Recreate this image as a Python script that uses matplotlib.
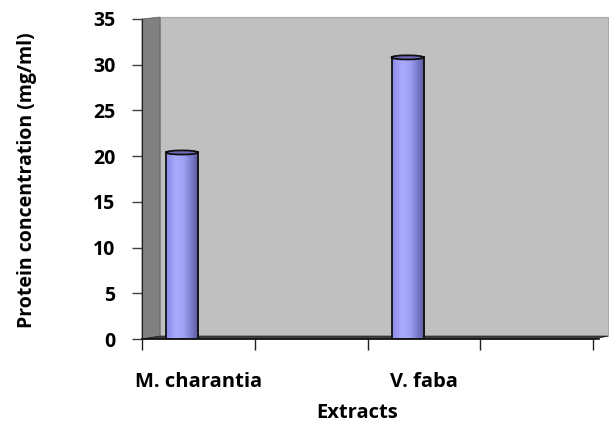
import numpy as np
import matplotlib.pyplot as plt
from matplotlib.patches import Polygon, Rectangle, Ellipse
from matplotlib.colors import LinearSegmentedColormap

# protein content of the plant extracts (blank slots are empty categories)
categories = ["M. charantia", "", "V. faba", ""]
protein = [20.4, np.nan, 30.8, np.nan]
y_ticks = [0, 5, 10, 15, 20, 25, 30, 35]

plt.rcParams["font.family"] = ["Open Sans", "DejaVu Sans"]
plt.rcParams["font.weight"] = "bold"

fig = plt.figure(figsize=(6.09, 4.23), dpi=100)
ax = fig.add_axes([142 / 609, 84 / 423, 451 / 609, 320 / 423])
ax.set_facecolor("none")
ax.set_xlim(0, len(categories))
ax.set_ylim(0, 35)

# walls of the pseudo-3D plot area, in axes coordinates
back = Rectangle((0.04, 0.009), 0.993, 0.997, transform=ax.transAxes,
                 facecolor="#c0c0c0", edgecolor="#a8a8a8", lw=0.8,
                 clip_on=False, zorder=0)
side = Polygon([(0, 0), (0, 1), (0.04, 1.006), (0.04, 0.009)],
               transform=ax.transAxes, closed=True, facecolor="#808080",
               edgecolor="#606060", lw=0.6, clip_on=False, zorder=0.5)
floor = Polygon([(0, 0), (0.04, 0.009), (1.033, 0.009), (1.0, 0)],
                transform=ax.transAxes, closed=True, facecolor="#404040",
                edgecolor="#202020", lw=0.6, clip_on=False, zorder=0.6)
for p in (back, side, floor):
    ax.add_patch(p)

# cylinder shading, light on the left, dark on the right
shade = LinearSegmentedColormap.from_list(
    "cyl", [(0, "#8a8ae8"), (0.3, "#aaaaff"), (0.55, "#a0a0f4"),
            (0.85, "#7070c0"), (1, "#55558f")])
grad = np.linspace(0, 1, 64)[None, :]
bar_w = 0.284
cap_h = 0.45
for i, v in enumerate(protein):
    if np.isnan(v):
        continue
    x0 = i + 0.355 - bar_w / 2
    body = Rectangle((x0, 0), bar_w, v, facecolor="none", edgecolor="#101010",
                     lw=1.3, zorder=3)
    ax.add_patch(body)
    im = ax.imshow(grad, cmap=shade, aspect="auto", extent=(x0, x0 + bar_w, 0, v),
                   zorder=2)
    im.set_clip_path(body)
    ax.add_patch(Ellipse((x0 + bar_w / 2, v), bar_w, cap_h, facecolor="#6c6cb8",
                         edgecolor="#101010", lw=1.3, zorder=4))

ax.set_yticks(y_ticks)
ax.set_xticks(np.arange(len(categories) + 1))
ax.set_xticklabels([])
ax.set_xticks(np.arange(len(categories)) + 0.5, minor=True)
ax.set_xticklabels(categories, minor=True)
ax.tick_params(axis="x", which="major", direction="out", length=8, width=1,
               color="#202020")
ax.tick_params(axis="x", which="minor", length=0, pad=24, labelsize=14.5)
ax.tick_params(axis="y", direction="out", length=7, width=1, color="#404040",
               labelsize=14, pad=12)
for lab in ax.get_xticklabels(minor=True) + ax.get_yticklabels():
    lab.set_fontweight("bold")

for s in ("top", "right"):
    ax.spines[s].set_visible(False)
ax.spines["left"].set_color("#202020")
ax.spines["bottom"].set_color("#101010")
ax.spines["bottom"].set_linewidth(1.2)
ax.spines["bottom"].set_bounds(0, 4.05)

ax.set_xlabel("Extracts", fontsize=14.5, fontweight="bold")
ax.set_ylabel("Protein concentration (mg/ml)", fontsize=14, fontweight="bold")
ax.xaxis.set_label_coords(0.477, -0.231)
ax.yaxis.set_label_coords(-0.255, 0.495)
ax.xaxis.label.set_va("center")
ax.yaxis.label.set_va("center")

fig.savefig("out.png", dpi=100)
